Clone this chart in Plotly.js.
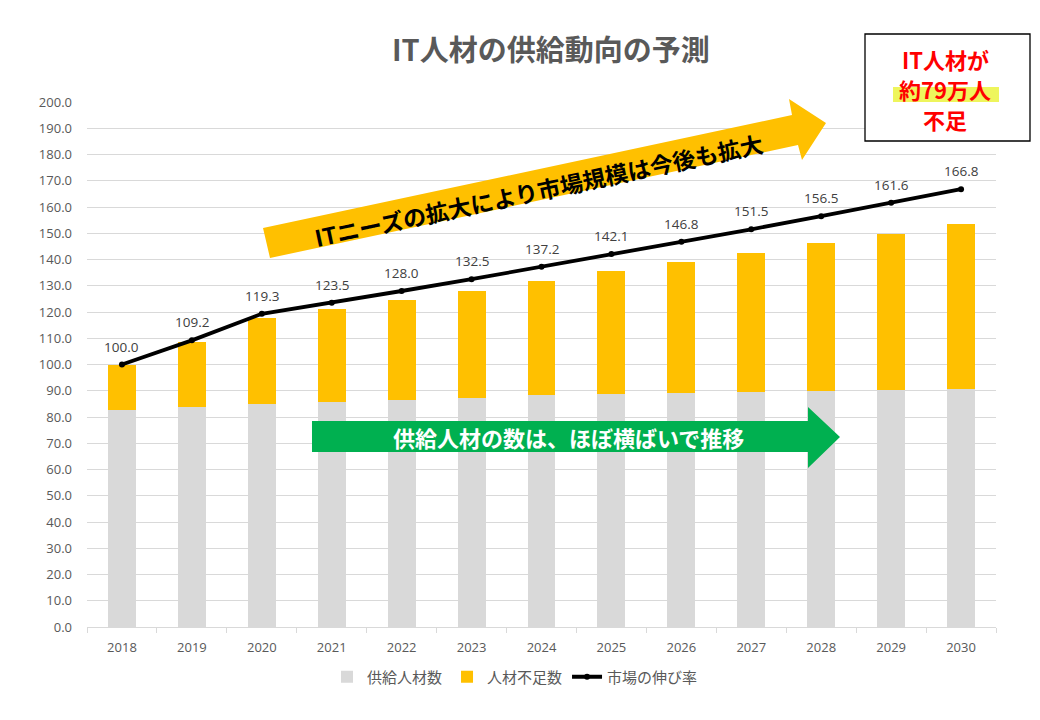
<!DOCTYPE html>
<html>
<head>
<meta charset="utf-8">
<script src="https://cdn.plot.ly/plotly-3.0.1.min.js"></script>
<style>html,body{margin:0;padding:0;background:#fff;}#chart{width:1040px;height:720px;}</style>
</head>
<body>
<div id="chart"></div>
<script>
const years = ['2018','2019','2020','2021','2022','2023','2024','2025','2026','2027','2028','2029','2030'];
const supply = [82.7, 83.8, 85.0, 85.8, 86.6, 87.4, 88.4, 88.8, 89.1, 89.6, 89.9, 90.3, 90.7];
const shortage = [17.3, 24.8, 32.7, 35.3, 38.0, 40.6, 43.4, 46.8, 49.9, 52.9, 56.4, 59.4, 62.8];
const market = [100.0, 109.2, 119.3, 123.5, 128.0, 132.5, 137.2, 142.1, 146.8, 151.5, 156.5, 161.6, 166.8];
const seriesNames = ['供給人材数', '人材不足数', '市場の伸び率'];
const titleText = 'IT人材の供給動向の予測';
const upArrowText = 'ITニーズの拡大により市場規模は今後も拡大';
const flatArrowText = '供給人材の数は、ほぼ横ばいで推移';
const calloutLines = ['IT人材が', '約79万人', '不足'];

const FONT = '"Segoe UI", "Open Sans", "Noto Sans CJK JP", sans-serif';
const JFONT = '"Noto Sans CJK JP", sans-serif';

// pixel -> paper helpers (plot area: x 87..996, y 102..627)
const L = 87, R = 996, T = 102, B = 627;
const px = p => (p - L) / (R - L);
const py = p => (B - p) / (B - T);
const poly = pts => 'M ' + pts.map(p => px(p[0]).toFixed(5) + ',' + py(p[1]).toFixed(5)).join(' L ') + ' Z';

const traces = [
  {type: 'bar', name: seriesNames[0], x: years, y: supply, marker: {color: '#d9d9d9'}, hoverinfo: 'x+y'},
  {type: 'bar', name: seriesNames[1], x: years, y: shortage, marker: {color: '#ffc000'}, hoverinfo: 'x+y'},
  {type: 'scatter', mode: 'lines+markers', name: seriesNames[2], x: years, y: market,
   line: {color: '#000000', width: 3.8}, marker: {color: '#000000', size: 6}}
];

// data labels: x given as category index so the category axis is not stretched
const annotations = market.map((v, i) => ({
  x: i, y: v, xref: 'x', yref: 'y', text: v.toFixed(1), showarrow: false,
  yshift: 18, font: {family: FONT, size: 13.5, color: '#404040'}
}));

annotations.push({
  xref: 'paper', yref: 'paper', x: px(551), y: py(48), xanchor: 'center', yanchor: 'middle',
  text: '<b>' + titleText + '</b>', showarrow: false,
  font: {family: JFONT, size: 29, color: '#595959'}
});
annotations.push({
  xref: 'paper', yref: 'paper', x: px(538), y: py(190), xanchor: 'center', yanchor: 'middle',
  text: '<b>' + upArrowText + '</b>', showarrow: false, textangle: -12,
  font: {family: JFONT, size: 23, color: '#000000'}
});
annotations.push({
  xref: 'paper', yref: 'paper', x: px(568), y: py(437), xanchor: 'center', yanchor: 'middle',
  text: '<b>' + flatArrowText + '</b>', showarrow: false,
  font: {family: JFONT, size: 22, color: '#ffffff'}
});
const calloutY = [59, 89, 119];
calloutLines.forEach((t, i) => annotations.push({
  xref: 'paper', yref: 'paper', x: px(945), y: py(calloutY[i]), xanchor: 'center', yanchor: 'middle',
  text: '<b>' + t + '</b>', showarrow: false,
  font: {family: JFONT, size: 22, color: '#ff0000'}
}));

const shapes = [
  // orange rising arrow
  {type: 'path', xref: 'paper', yref: 'paper', layer: 'above',
   path: poly([[263,228],[792,115],[789,99],[826,123],[802,160],[798,145],[270,258]]),
   fillcolor: '#ffc000', line: {width: 0}},
  // green flat arrow
  {type: 'path', xref: 'paper', yref: 'paper', layer: 'above',
   path: poly([[312,421],[808,421],[808,407],[840,437],[808,468],[808,452],[312,452]]),
   fillcolor: '#00b050', line: {width: 0}},
  // callout box
  {type: 'rect', xref: 'paper', yref: 'paper', layer: 'above',
   x0: px(865), x1: px(1030), y0: py(141), y1: py(34),
   fillcolor: '#ffffff', line: {color: '#000000', width: 1.3}},
  // highlight
  {type: 'rect', xref: 'paper', yref: 'paper', layer: 'above',
   x0: px(893), x1: px(999), y0: py(102), y1: py(87),
   fillcolor: '#eef55c', line: {width: 0}}
];

const layout = {
  width: 1040, height: 720,
  margin: {l: L, r: 1040 - R, t: T, b: 720 - B, pad: 0},
  paper_bgcolor: '#ffffff', plot_bgcolor: '#ffffff',
  barmode: 'stack', bargap: 0.6,
  font: {family: FONT, color: '#595959'},
  xaxis: {type: 'category', range: [-0.5, years.length - 0.5], autorange: false,
          tickfont: {family: FONT, size: 13, color: '#595959'},
          showline: true, linecolor: '#d9d9d9', linewidth: 1,
          ticks: 'outside', tickson: 'boundaries', ticklen: 5, tickcolor: '#d9d9d9',
          ticklabelstandoff: 8, showgrid: false, fixedrange: true},
  yaxis: {range: [0, 200], autorange: false, dtick: 10, tick0: 0, tickformat: '.1f',
          tickfont: {family: FONT, size: 13, color: '#595959'},
          gridcolor: '#d9d9d9', gridwidth: 1, zeroline: false, showline: false,
          ticks: '', ticklabelstandoff: 14, fixedrange: true},
  legend: {orientation: 'h', xref: 'paper', x: px(515), xanchor: 'center',
           y: py(677), yanchor: 'middle', font: {family: FONT, size: 15, color: '#595959'},
           traceorder: 'normal', itemwidth: 30},
  showlegend: true,
  annotations: annotations,
  shapes: shapes
};

Plotly.newPlot('chart', traces, layout, {displayModeBar: false, staticPlot: true});
</script>
</body>
</html>
